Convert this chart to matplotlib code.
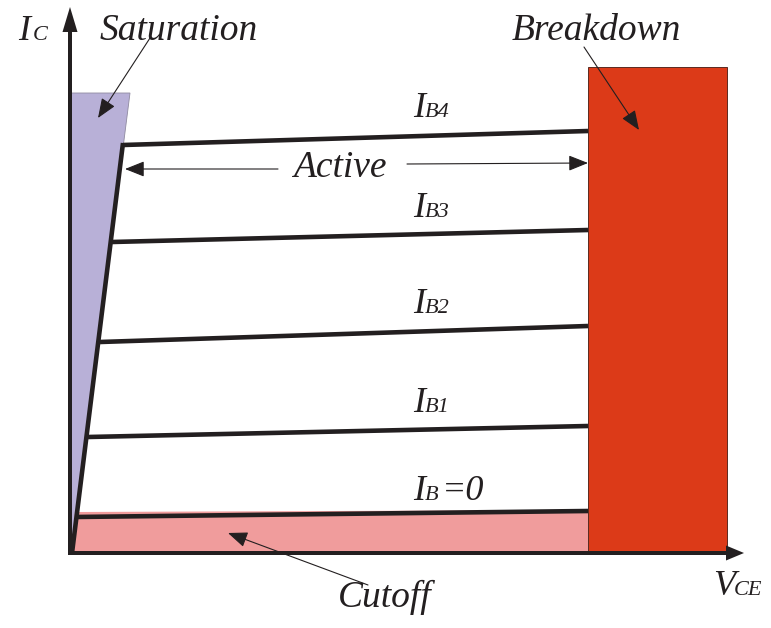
import matplotlib.pyplot as plt

# BJT output characteristic, units are diagram pixels from the origin
# (x = V_CE, y = I_C)
ib_names = ['=0', '1', '2', '3', '4']
ib_start_x = [5, 18, 30, 42, 53]
ib_start_y = [36, 116, 211, 311, 408]
ib_end_x = [518, 518, 518, 518, 518]
ib_end_y = [42, 127, 227, 323, 422]
ib_label_y = [53, 141, 240, 336, 436]

knee_x = [2, 53]
knee_y = [0, 410]

sat_x = [0, 60, 6, 0]
sat_y = [460, 460, 35, 0]

cut_x = [2, 518, 518, 5]
cut_y = [0, 0, 43, 41]

brk_x0, brk_x1 = 518, 657
brk_top = 486

BLACK = '#231f20'
serif = dict(family='Liberation Serif', style='italic', color=BLACK)

fig = plt.figure(figsize=(7.71, 6.28), dpi=100)
ax = fig.add_axes([0, 0, 1, 1])
ax.set_xlim(-70, 701)
ax.set_ylim(-75, 553)
ax.axis('off')

# regions
ax.fill(sat_x, sat_y, color='#b8b0d7', ec='#8f8aa0', lw=0.6, zorder=1)
ax.fill(cut_x, cut_y, color='#f09c9c', lw=0, zorder=1)
ax.fill([brk_x0, brk_x1, brk_x1, brk_x0], [0, 0, brk_top, brk_top],
        color='#dc3a18', ec='#5a2a20', lw=0.7, zorder=1)

# load lines
ax.plot(knee_x, knee_y, color=BLACK, lw=3.3, solid_capstyle='butt', zorder=3)
for i in range(len(ib_names)):
    ax.plot([ib_start_x[i], ib_end_x[i]], [ib_start_y[i], ib_end_y[i]],
            color=BLACK, lw=3.3, solid_capstyle='butt', zorder=3)
    ax.text(343, ib_label_y[i], 'I', fontsize=26, va='baseline', **serif)
    if ib_names[i] == '=0':
        ax.text(355, ib_label_y[i], 'B', fontsize=16, va='baseline', **serif)
        ax.text(372, ib_label_y[i], '=0', fontsize=26, va='baseline', **serif)
    else:
        ax.text(355, ib_label_y[i], 'B' + ib_names[i], fontsize=16,
                va='baseline', **serif)

# axes with arrows
ax.arrow(0, -2, 0, 548, width=4, head_width=15, head_length=25,
         length_includes_head=True, color=BLACK, lw=0, zorder=4)
ax.arrow(-2, 0, 676, 0, width=4, head_width=15, head_length=18,
         length_includes_head=True, color=BLACK, lw=0, zorder=4)

ax.text(-52, 513, 'I', fontsize=26, va='baseline', **serif)
ax.text(-37, 513, 'C', fontsize=16, va='baseline', **serif)
ax.text(643, -42, 'V', fontsize=26, va='baseline', **serif)
ax.text(664, -42, 'CE', fontsize=16, va='baseline', **serif)

# region labels and pointers
arr = dict(arrowstyle='-|>,head_length=1.0,head_width=0.4', lw=0.8,
           color=BLACK, shrinkA=0, shrinkB=0, mutation_scale=12)
ax.text(30, 513, 'Saturation', fontsize=27, va='baseline', **serif)
ax.annotate('', xy=(28, 435), xytext=(80, 515), arrowprops=arr, zorder=5)
ax.text(442, 513, 'Breakdown', fontsize=27, va='baseline', **serif)
ax.annotate('', xy=(569, 423), xytext=(514, 506), arrowprops=arr, zorder=5)
ax.text(268, -54, 'Cutoff', fontsize=27, va='baseline', **serif)
ax.annotate('', xy=(158, 20), xytext=(298, -32), arrowprops=arr, zorder=5)
ax.text(223, 376, 'Active', fontsize=27, va='baseline', **serif)
ax.annotate('', xy=(55, 384), xytext=(208, 384), arrowprops=arr, zorder=5)
ax.annotate('', xy=(518, 390), xytext=(337, 389), arrowprops=arr, zorder=5)

fig.savefig('out.png', dpi=100)
